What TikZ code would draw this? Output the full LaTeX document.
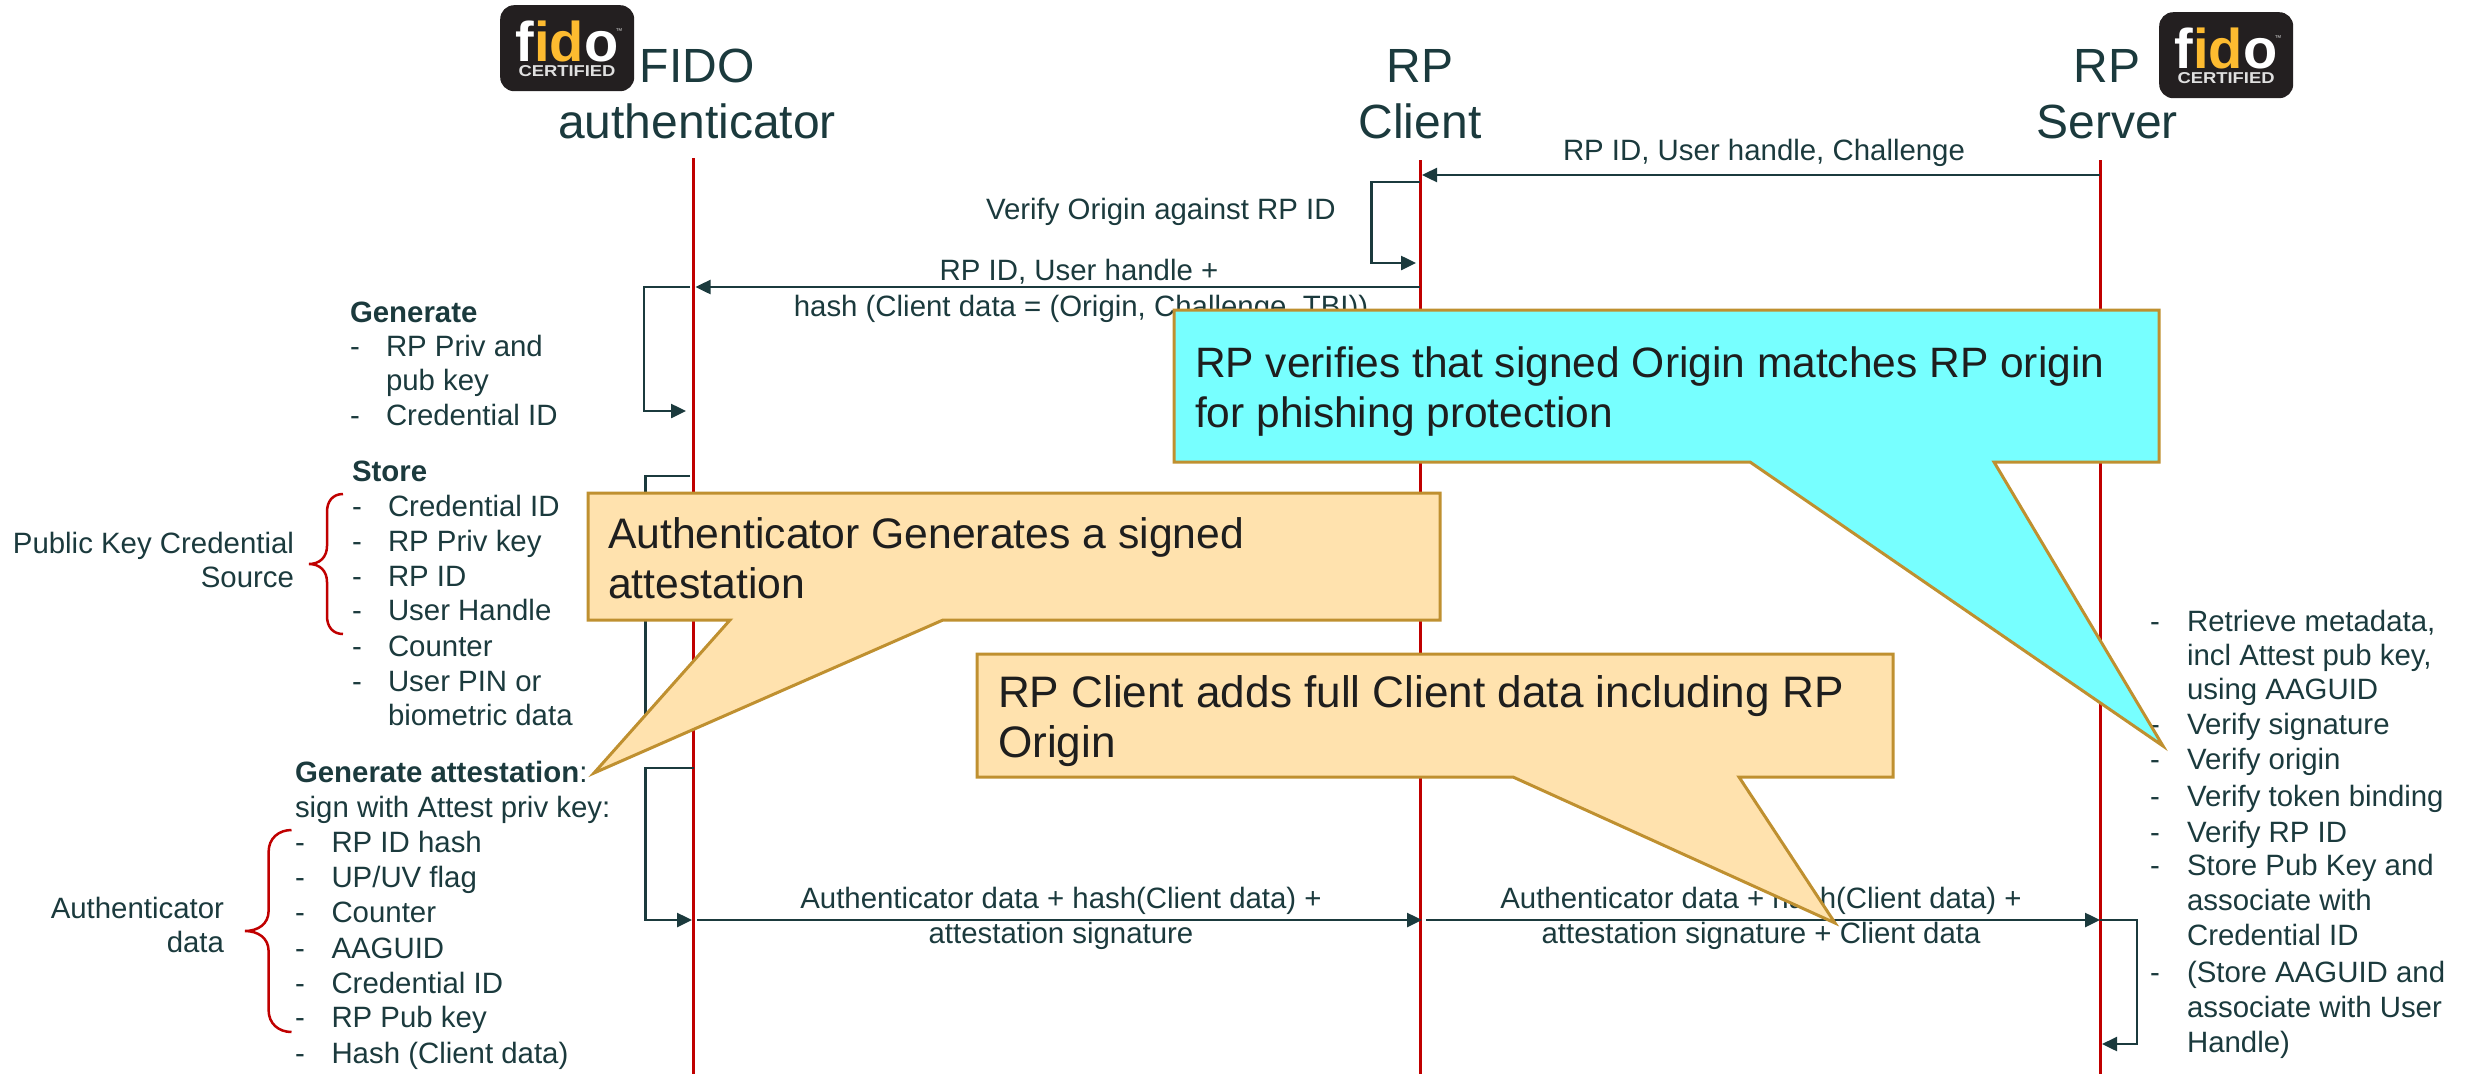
\documentclass[tikz,border=0pt]{standalone}
\usepackage{fontspec}
\usepackage{graphicx}
\setmainfont{Liberation Sans}
\usetikzlibrary{arrows.meta}
\definecolor{ink}{HTML}{1B3A3D}
\definecolor{life}{HTML}{C00000}
\definecolor{logobg}{HTML}{231F20}
\definecolor{logogold}{HTML}{FDBB30}
\definecolor{peach}{HTML}{FFE2AE}
\definecolor{aqua}{HTML}{77FFFF}
\definecolor{edgegold}{HTML}{BF9030}
\definecolor{callink}{HTML}{1E1E1E}
\tikzset{
  lifeline/.style={draw=life,line width=3pt},
  msg/.style={draw=ink,line width=2.5pt,-{Triangle[length=15pt,width=14pt]}},
  plainmsg/.style={draw=ink,line width=2.5pt},
  brc/.style={draw=life,line width=2.5pt},
  txt/.style={inner sep=0pt,outer sep=0pt,text=ink,font=\fontsize{29.4}{35}\selectfont,anchor=base west},
  txtc/.style={txt,anchor=base},
  txte/.style={txt,anchor=base east},
  title/.style={inner sep=0pt,outer sep=0pt,text=ink,font=\fontsize{48}{56}\selectfont,anchor=base},
  calltxt/.style={inner sep=0pt,outer sep=0pt,text=callink,anchor=base west},
  peachbox/.style={draw=edgegold,line width=3pt,fill=peach,line join=miter},
  aquabox/.style={draw=edgegold,line width=3pt,fill=aqua,line join=miter},
  logobox/.style={fill=logobg,rounded corners=14pt,inner sep=0pt,minimum width=134pt,minimum height=86pt,anchor=north west},
}
\newcounter{lic}
\newcommand{\listline}[4]{\stepcounter{lic}%
  \node[txt] (dash\thelic) at (#1,#3) {-};
  \node[txt] (item\thelic) at (#2,#3) {#4};}
\newcommand{\fidologo}[3]{%
  \node[logobox] (#1) at (#2,#3) {};
  \node[inner sep=0pt,anchor=base,font=\fontsize{56}{56}\selectfont\bfseries] (#1word) at (#2+67,#3+56)
    {\textcolor{white}{f}\textcolor{logogold}{id}\textcolor{white}{o}};
  \node[inner sep=0pt,anchor=base,text=white!88!black,font=\bfseries] (#1cert) at (#2+67,#3+71)
    {\resizebox{97pt}{11pt}{CERTIFIED}};
  \node[inner sep=0pt,anchor=base,text=white!80!black,font=\fontsize{7}{7}\selectfont] (#1tm) at (#2+119,#3+28) {™};
}
\begin{document}
\begin{tikzpicture}[x=1pt,y=-1pt]
\useasboundingbox (0,0) rectangle (2466,1074);
% lifeline ends
\coordinate (aT) at (693.5,158); \coordinate (aB) at (693.5,1074);
\coordinate (cT) at (1420,160);  \coordinate (cB) at (1420,1074);
\coordinate (sT) at (2100,160);  \coordinate (sB) at (2100,1074);
\draw[lifeline] (aT) -- (aB);
\draw[lifeline] (cT) -- (cB);
\draw[lifeline] (sT) -- (sB);
% titles
\node[title] (t1) at (697,82) {FIDO};
\node[title] (t2) at (697,138) {authenticator};
\node[title] (t3) at (1420,82) {RP};
\node[title] (t4) at (1420,138) {Client};
\node[title] (t5) at (2107,82) {RP};
\node[title] (t6) at (2107,138) {Server};
\fidologo{logoa}{500}{5}
\fidologo{logob}{2159}{12}
% message points
\coordinate (m1s) at (2100,175); \coordinate (m1e) at (1422,175);
\coordinate (l1a) at (1420,182); \coordinate (l1b) at (1371.5,182); \coordinate (l1c) at (1371.5,263); \coordinate (l1d) at (1416,263);
\coordinate (m2s) at (1420,287); \coordinate (m2e) at (695.5,287);
\coordinate (l2a) at (690,287); \coordinate (l2b) at (644,287); \coordinate (l2c) at (644,411); \coordinate (l2d) at (686,411);
\coordinate (l3a) at (690,476); \coordinate (l3b) at (645.5,476); \coordinate (l3c) at (645.5,730); \coordinate (l3d) at (690,730);
\coordinate (l4a) at (694,768); \coordinate (l4b) at (645.5,768); \coordinate (l4c) at (645.5,920); \coordinate (l4d) at (692,920);
\coordinate (m3s) at (697,920); \coordinate (m3e) at (1422,920);
\coordinate (m4s) at (1426,920); \coordinate (m4e) at (2100,920);
\coordinate (l5a) at (2100,920); \coordinate (l5b) at (2137,920); \coordinate (l5c) at (2137,1044); \coordinate (l5d) at (2102,1044);
\draw[msg] (m1s) -- (m1e);
\draw[msg] (l1a) -- (l1b) -- (l1c) -- (l1d);
\draw[msg] (m2s) -- (m2e);
\draw[msg] (l2a) -- (l2b) -- (l2c) -- (l2d);
\draw[plainmsg] (l3a) -- (l3b) -- (l3c) -- (l3d);
\draw[msg] (l4a) -- (l4b) -- (l4c) -- (l4d);
\draw[msg] (m3s) -- (m3e);
\draw[msg] (m4s) -- (m4e);
\draw[msg] (l5a) -- (l5b) -- (l5c) -- (l5d);
% message labels
\node[txtc] (a1) at (1764,160) {RP ID, User handle, Challenge};
\node[txt] (a2) at (986,219) {Verify Origin against RP ID};
\node[txtc] (a3) at (1079,280) {RP ID, User handle +};
\node[txtc] (a4) at (1081,316) {hash (Client data = (Origin, Challenge, TBI))};
\node[txtc] (a5) at (1061,908) {Authenticator data + hash(Client data) +};
\node[txtc] (a6) at (1061,943) {attestation signature};
\node[txtc] (a7) at (1761,908) {Authenticator data + hash(Client data) +};
\node[txtc] (a8) at (1761,943) {attestation signature + Client data};
% generate
\node[txt,font=\fontsize{29.4}{35}\selectfont\bfseries] (g1) at (350,322) {Generate};
\listline{350}{386}{356}{RP Priv and}
\node[txt] (g2) at (386,390) {pub key};
\listline{350}{386}{425}{Credential ID}
% store
\node[txt,font=\fontsize{29.4}{35}\selectfont\bfseries] (s1) at (352,481) {Store};
\listline{352}{388}{516}{Credential ID}
\listline{352}{388}{551}{RP Priv key}
\listline{352}{388}{586}{RP ID}
\listline{352}{388}{620}{User Handle}
\listline{352}{388}{656}{Counter}
\listline{352}{388}{691}{User PIN or}
\node[txt] (s2) at (388,725) {biometric data};
\node[txte] (p1) at (294,553) {Public Key Credential};
\node[txte] (p2) at (294,587) {Source};
% attestation
\node[txt] (h1) at (295,782) {\textbf{Generate attestation}:};
\node[txt] (h2) at (295,817) {sign with Attest priv key:};
\listline{295}{331.5}{852}{RP ID hash}
\listline{295}{331.5}{887}{UP/UV flag}
\listline{295}{331.5}{922}{Counter}
\listline{295}{331.5}{958}{AAGUID}
\listline{295}{331.5}{993}{Credential ID}
\listline{295}{331.5}{1027}{RP Pub key}
\listline{295}{331.5}{1063}{Hash (Client data)}
\node[txte] (q1) at (224,918) {Authenticator};
\node[txte] (q2) at (224,952) {data};
% braces
\coordinate (b1t) at (343,494); \coordinate (b1m) at (309,564); \coordinate (b1b) at (343,634);
\draw[brc] (b1t) .. controls (333,494) and (327,501) .. (327,512) -- (327,546) .. controls (327,557) and (320,564) .. (b1m)
  .. controls (320,564) and (327,571) .. (327,582) -- (327,616) .. controls (327,627) and (333,634) .. (b1b);
\coordinate (b2t) at (291.5,830); \coordinate (b2m) at (245,931); \coordinate (b2b) at (291.5,1032);
\draw[brc] (b2t) .. controls (279,830) and (268.6,838) .. (268.6,852) -- (268.6,911) .. controls (268.6,924) and (258,931) .. (b2m)
  .. controls (258,931) and (268.6,938) .. (268.6,951) -- (268.6,1010) .. controls (268.6,1024) and (279,1032) .. (b2b);
% server list
\listline{2150}{2187}{631}{Retrieve metadata,}
\node[txt] (r1) at (2187,665) {incl Attest pub key,};
\node[txt] (r2) at (2187,699) {using AAGUID};
\listline{2150}{2187}{734}{Verify signature}
\listline{2150}{2187}{769}{Verify origin}
\listline{2150}{2187}{806}{Verify token binding}
\listline{2150}{2187}{842}{Verify RP ID}
\listline{2150}{2187}{875}{Store Pub Key and}
\node[txt] (r3) at (2187,910) {associate with};
\node[txt] (r4) at (2187,945) {Credential ID};
\listline{2150}{2187}{982}{(Store AAGUID and}
\node[txt] (r5) at (2187,1017) {associate with User};
\node[txt] (r6) at (2187,1052) {Handle)};
% callouts
\coordinate (c1tip) at (594,773);
\draw[peachbox] (588,493) -- (1440,493) -- (1440,620) -- (943,620) -- (c1tip) -- (730,620) -- (588,620) -- cycle;
\node[calltxt,font=\fontsize{42.7}{50}\selectfont] (c1a) at (608,548) {Authenticator Generates a signed};
\node[calltxt,font=\fontsize{42.7}{50}\selectfont] (c1b) at (608,598) {attestation};
\coordinate (c2tip) at (1835,923);
\draw[peachbox] (977,654) -- (1893,654) -- (1893,777) -- (1739,777) -- (c2tip) -- (1513,777) -- (977,777) -- cycle;
\node[calltxt,font=\fontsize{44.1}{50}\selectfont] (c2a) at (998,707) {RP Client adds full Client data including RP};
\node[calltxt,font=\fontsize{44.1}{50}\selectfont] (c2b) at (998,757) {Origin};
\coordinate (c3tip) at (2163,746);
\draw[aquabox] (1174,310) -- (2159,310) -- (2159,462) -- (1994,462) -- (c3tip) -- (1750,462) -- (1174,462) -- cycle;
\node[calltxt,font=\fontsize{42.5}{50}\selectfont] (c3a) at (1195,377) {RP verifies that signed Origin matches RP origin};
\node[calltxt,font=\fontsize{42.5}{50}\selectfont] (c3b) at (1195,427) {for phishing protection};
\end{tikzpicture}
\end{document}
